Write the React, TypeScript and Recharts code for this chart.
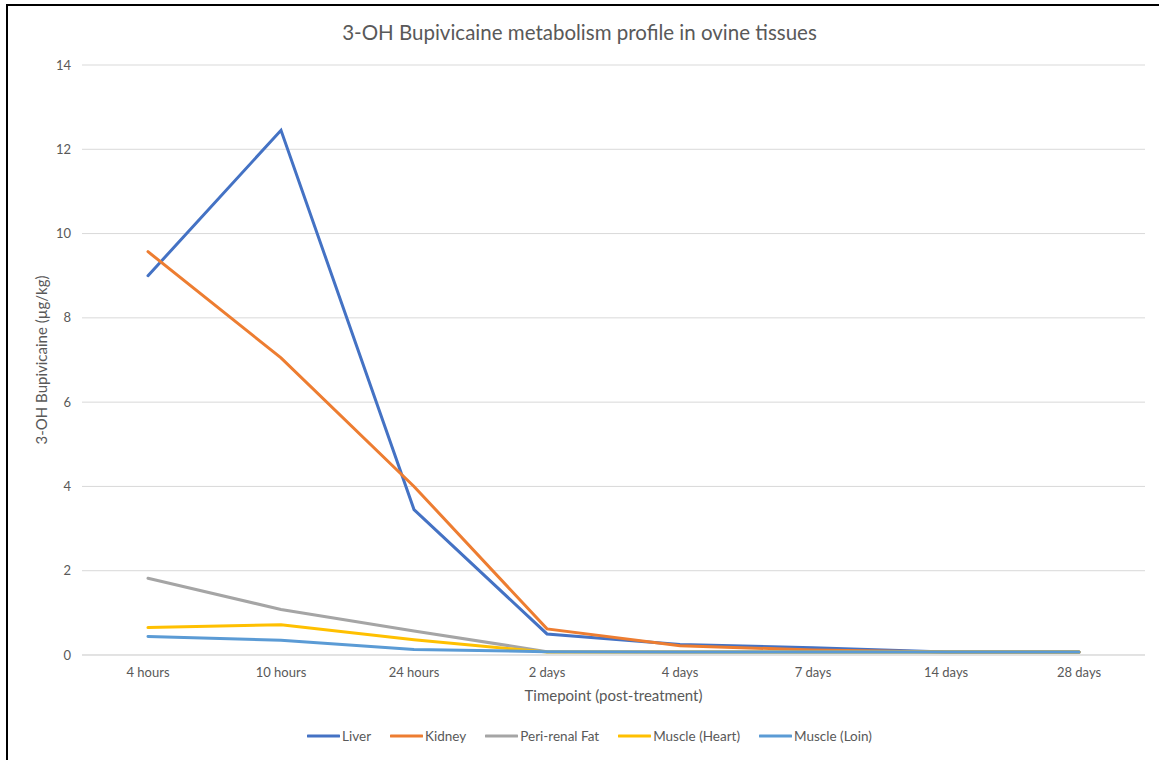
import React from "react";
import {
  CartesianGrid,
  Legend,
  Line,
  LineChart,
  XAxis,
  YAxis,
} from "recharts";

const timepoints = ["4 hours", "10 hours", "24 hours", "2 days", "4 days", "7 days", "14 days", "28 days"];
const liver = [9.0, 12.45, 3.45, 0.5, 0.25, 0.17, 0.07, 0.07];
const kidney = [9.57, 7.05, 4.0, 0.62, 0.22, 0.12, 0.07, 0.07];
const periRenalFat = [1.82, 1.08, 0.57, 0.08, 0.07, 0.07, 0.07, 0.07];
const muscleHeart = [0.65, 0.72, 0.36, 0.07, 0.07, 0.07, 0.07, 0.07];
const muscleLoin = [0.44, 0.35, 0.13, 0.08, 0.07, 0.07, 0.07, 0.07];
const yTicks = [0, 2, 4, 6, 8, 10, 12, 14];

const series = [
  { key: "Liver", color: "#4472C4" },
  { key: "Kidney", color: "#ED7D31" },
  { key: "Peri-renal Fat", color: "#A5A5A5" },
  { key: "Muscle (Heart)", color: "#FFC000" },
  { key: "Muscle (Loin)", color: "#5B9BD5" },
];

const data = timepoints.map((t, i) => ({
  time: t,
  Liver: liver[i],
  Kidney: kidney[i],
  "Peri-renal Fat": periRenalFat[i],
  "Muscle (Heart)": muscleHeart[i],
  "Muscle (Loin)": muscleLoin[i],
}));

const font = "Lato, 'Open Sans', sans-serif";
const textColor = "#595959";

function LegendRow() {
  return (
    <div style={{ display: "flex", justifyContent: "center", alignItems: "center", paddingLeft: 20, fontFamily: font, fontSize: 13.5, color: textColor }}>
      {series.map((s, i) => (
        <div key={s.key} style={{ display: "flex", alignItems: "center", marginRight: i === series.length - 1 ? 0 : 19 }}>
          <svg width={33} height={6} style={{ marginRight: 2 }}>
            <line x1={1} y1={3} x2={32} y2={3} stroke={s.color} strokeWidth={3} strokeLinecap="round" />
          </svg>
          <span>{s.key}</span>
        </div>
      ))}
    </div>
  );
}

export default function App() {
  return (
    <div style={{ position: "absolute", left: 0, top: 0, width: 1159, height: 760, background: "#fff", overflow: "hidden" }}>
      <div style={{ position: "absolute", left: 6, top: 4, width: 1153, height: 756, borderLeft: "2px solid #000", borderTop: "2px solid #000" }} />
      <div style={{ position: "absolute", left: 0, top: 20, width: 1159, textAlign: "center", fontFamily: font, fontSize: 20.5, color: textColor }}>
        3-OH Bupivicaine metabolism profile in ovine tissues
      </div>
      <LineChart width={1159} height={760} data={data} margin={{ top: 65, right: 14, bottom: 55, left: 0 }}>
        <CartesianGrid vertical={false} stroke="#d9d9d9" />
        <XAxis
          dataKey="time"
          padding={{ left: 66, right: 66 }}
          axisLine={{ stroke: "#d9d9d9" }}
          tickLine={false}
          tickMargin={7}
          height={50}
          tick={{ fill: textColor, fontSize: 13, fontFamily: font }}
          label={{ value: "Timepoint (post-treatment)", position: "insideBottom", offset: 4, fill: textColor, fontSize: 15, fontFamily: font }}
        />
        <YAxis
          domain={[0, 14]}
          ticks={yTicks}
          width={82}
          axisLine={false}
          tickLine={false}
          tickMargin={5}
          tick={{ fill: textColor, fontSize: 13, fontFamily: font }}
          label={{ value: "3-OH Bupivicaine (µg/kg)", angle: -90, position: "center", dx: 1, fill: textColor, fontSize: 15, fontFamily: font }}
        />
        {series.map((s) => (
          <Line
            key={s.key}
            type="linear"
            dataKey={s.key}
            stroke={s.color}
            strokeWidth={3}
            strokeLinecap="round"
            dot={false}
            activeDot={false}
            isAnimationActive={false}
          />
        ))}
        <Legend
          verticalAlign="middle"
          align="center"
          wrapperStyle={{ top: 728, left: 0, width: 1159 }}
          content={() => <LegendRow />}
        />
      </LineChart>
    </div>
  );
}
